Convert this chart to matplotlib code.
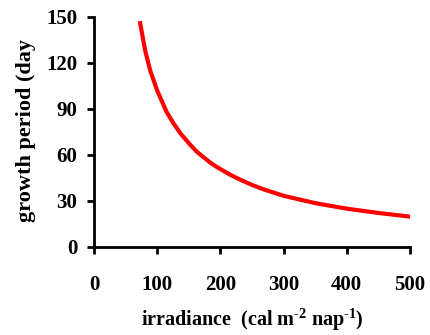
import matplotlib
matplotlib.use('Agg')
import matplotlib.pyplot as plt

# valores
irradiance = [73, 81, 89, 100, 115, 126, 137, 152, 163, 184, 195, 216, 232,
              250, 269, 300, 350, 400, 450, 500]
growth_days = [146, 128, 115, 102, 88, 80.5, 74, 66.8, 62, 55, 52, 47, 43.8,
               40.5, 37.5, 33.4, 28.6, 25, 22.2, 19.8]

x_ticks = [0, 100, 200, 300, 400, 500]
y_ticks = [0, 30, 60, 90, 120, 150]

plt.rcParams['font.family'] = 'Liberation Serif'
plt.rcParams['font.weight'] = 'bold'
plt.rcParams['mathtext.fontset'] = 'custom'
plt.rcParams['mathtext.rm'] = 'Liberation Serif:bold'
plt.rcParams['mathtext.it'] = 'Liberation Serif:bold'
plt.rcParams['mathtext.bf'] = 'Liberation Serif:bold'

fig = plt.figure(figsize=(4.31, 3.35), dpi=100)
ax = fig.add_axes([94/431, 1-247/335, (410-94)/431, (247-17)/335])

ax.plot(irradiance, growth_days, color='#ff0000', lw=3, solid_joinstyle='round')

ax.set_xlim(0, 500)
ax.set_ylim(0, 150)
ax.set_xticks(x_ticks)
ax.set_yticks(y_ticks)
ax.spines['top'].set_visible(False)
ax.spines['right'].set_visible(False)
for s in ['left', 'bottom']:
    ax.spines[s].set_linewidth(2)
ax.tick_params(axis='both', width=2, length=5, labelsize=15)
ax.tick_params(axis='x', pad=15)
ax.tick_params(axis='y', pad=7)
for lab in ax.get_xticklabels() + ax.get_yticklabels():
    lab.set_fontweight('bold')

fig.text(252/431, 1-320/335, r'irradiance  (cal m$^{\text{-2}}$ nap$^{\text{-1}}$)',
         ha='center', va='center', fontsize=14.5, fontweight='bold')
fig.text(26/431, 1-222/335, 'growth period (day', rotation=90,
         ha='center', va='bottom', fontsize=16, fontweight='bold')

fig.savefig('out.png', dpi=100)
